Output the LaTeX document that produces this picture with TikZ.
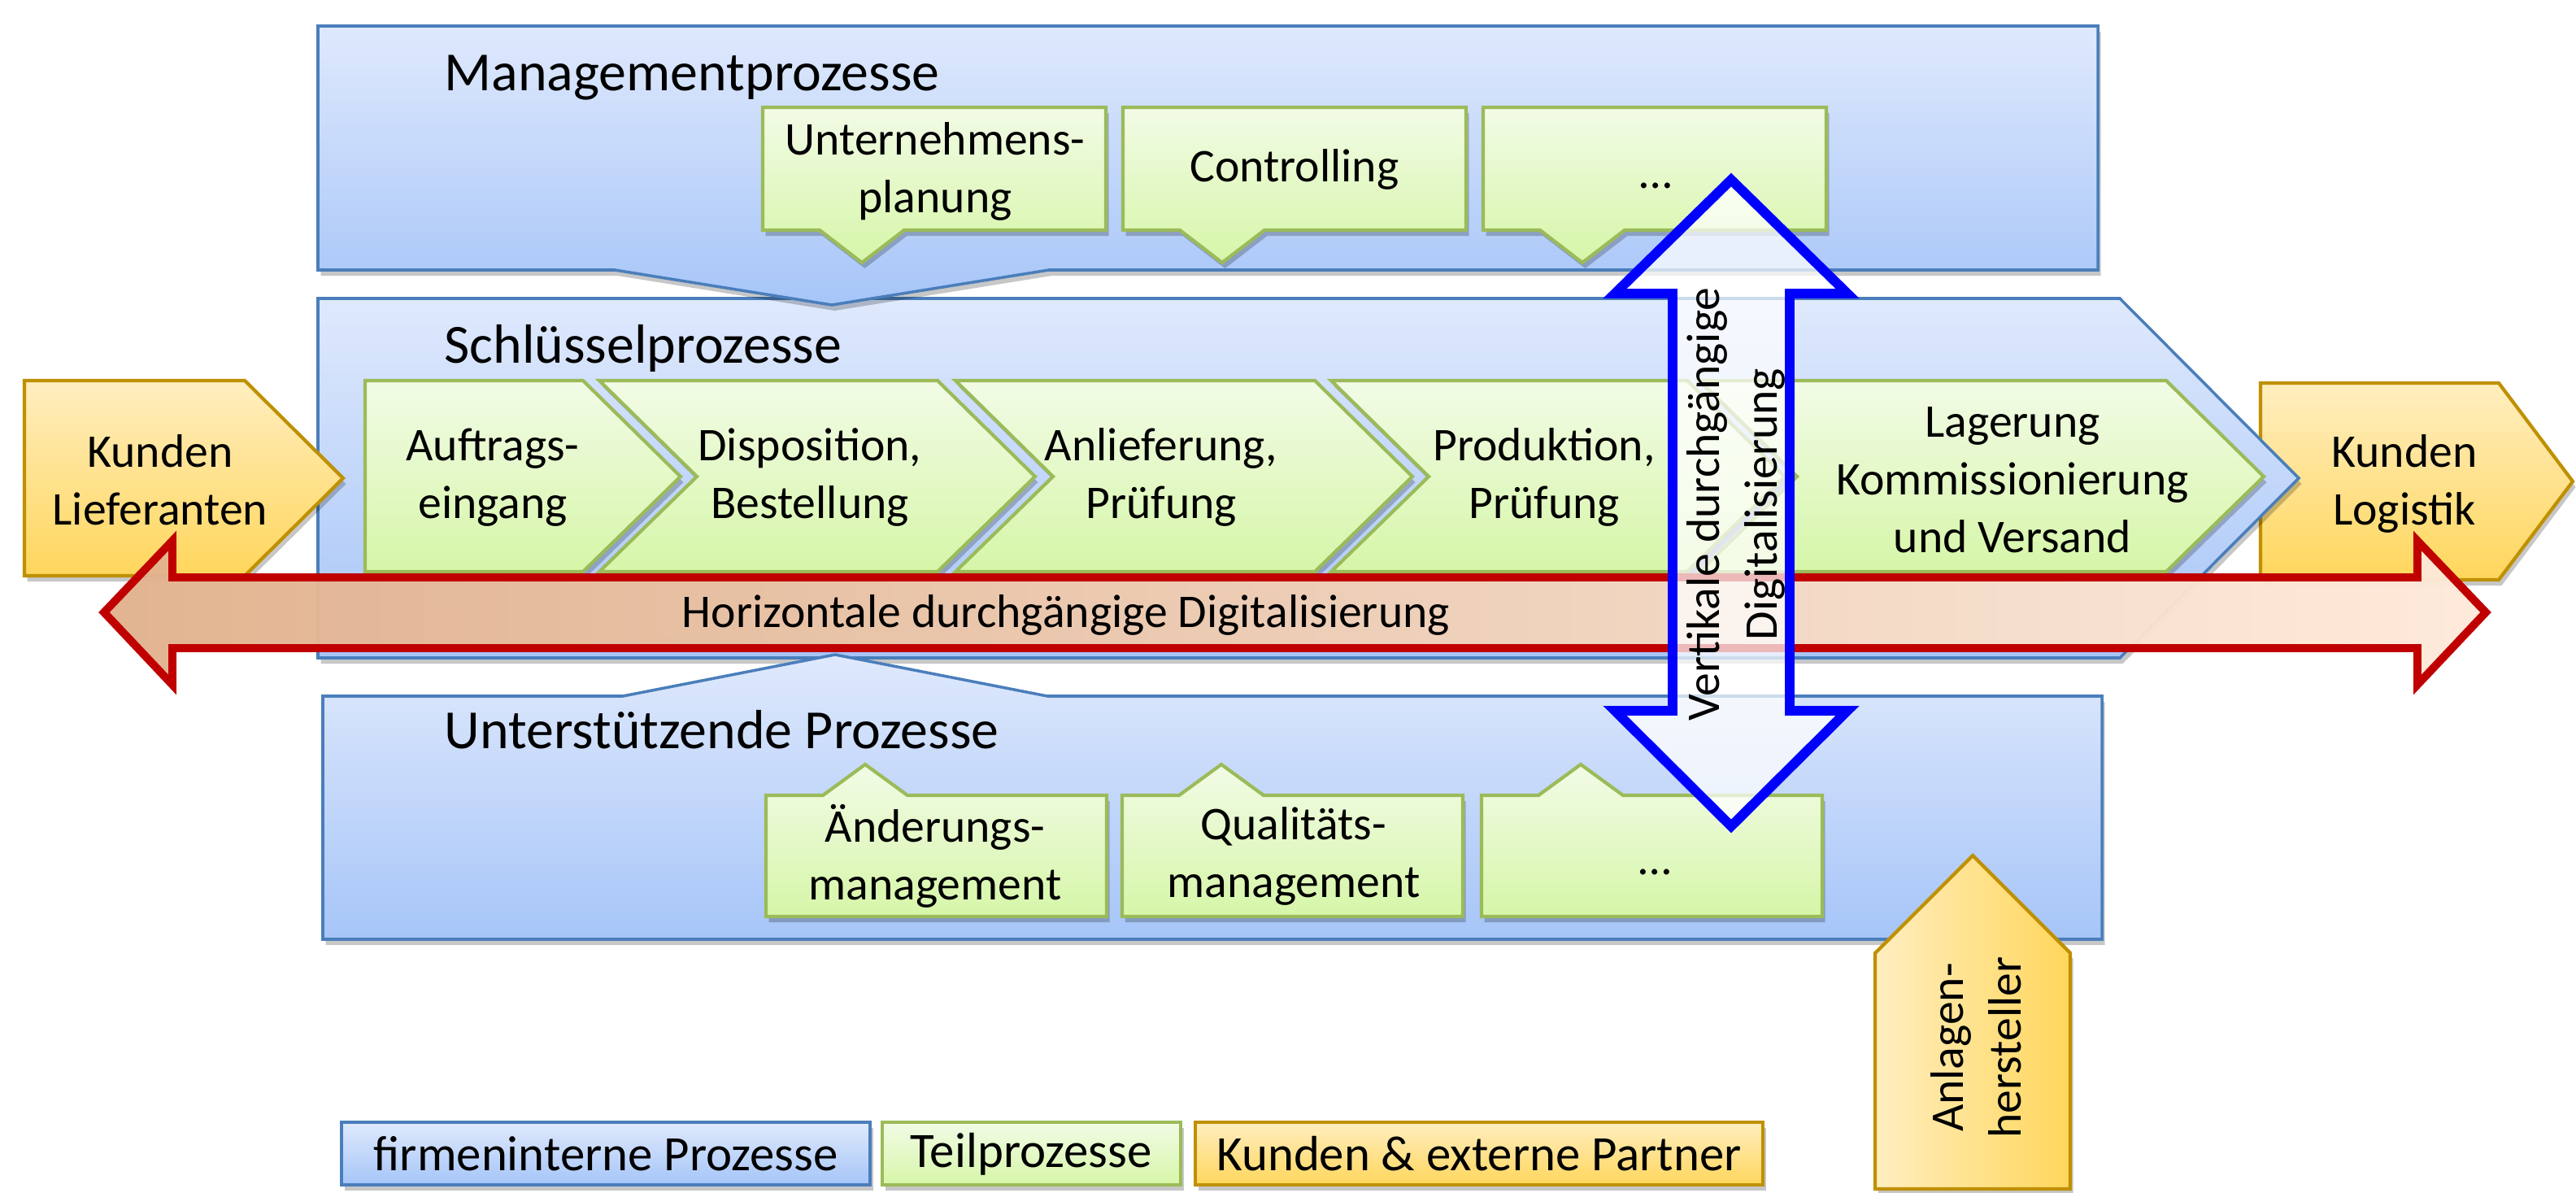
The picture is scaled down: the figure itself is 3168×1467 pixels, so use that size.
\documentclass[tikz,border=0pt]{standalone}
\usepackage{fontspec}
\setmainfont{Carlito}
\usetikzlibrary{shadows}
\definecolor{bluedraw}{RGB}{74,126,187}
\definecolor{bluetop}{RGB}{223,233,252}
\definecolor{bluebot}{RGB}{166,197,248}
\definecolor{greendraw}{RGB}{155,187,89}
\definecolor{greentop}{RGB}{242,251,230}
\definecolor{greenbot}{RGB}{214,246,168}
\definecolor{orangedraw}{RGB}{191,144,0}
\definecolor{orangetop}{RGB}{255,238,192}
\definecolor{orangebot}{RGB}{255,214,92}
\definecolor{redline}{RGB}{192,0,0}
\definecolor{redleft}{RGB}{226,178,142}
\definecolor{redmid}{RGB}{250,206,172}
\definecolor{redright}{RGB}{254,234,218}
\definecolor{vblue}{RGB}{0,0,255}
\tikzset{
  myshadow/.style={drop shadow={shadow xshift=1pt, shadow yshift=-2pt, opacity=0.22, fill=black}},
  blueshape/.style={draw=bluedraw, line width=1pt, top color=bluetop, bottom color=bluebot, myshadow},
  greenshape/.style={draw=greendraw, line width=1.2pt, top color=greentop, bottom color=greenbot, myshadow},
  orangeshape/.style={draw=orangedraw, line width=1.2pt, top color=orangetop, bottom color=orangebot, myshadow},
  boxtext/.style={font=\fontsize{16.4}{20.2}\selectfont, align=center, inner sep=0pt},
  headtext/.style={font=\fontsize{19.3}{23.5}\selectfont, anchor=base west, inner sep=0pt},
  legendtext/.style={font=\fontsize{17.3}{21}\selectfont, inner sep=0pt},
}
\begin{document}
\begin{tikzpicture}[x=0.01cm, y=-0.01cm]
\useasboundingbox (0,0) rectangle (3168,1467);
\fill[white] (0,0) rectangle (3168,1467);

% right customer box (behind key process box)
\draw[orangeshape] (2780,471) -- (3073,471) -- (3164,592) -- (3073,713) -- (2780,713) -- cycle;
\node[boxtext] (kundlog) at (2957,595) {Kunden\\Logistik};

% key processes
\draw[blueshape] (391,367) -- (2607,367) -- (2827,588) -- (2607,809) -- (391,809) -- cycle;
\node[headtext] (hS) at (546,447) {Schlüsselprozesse};

% management processes
\draw[blueshape] (391,32) -- (2580,32) -- (2580,332) -- (1290,332) -- (1023,375) -- (756,332) -- (391,332) -- cycle;
\node[headtext] (hM) at (546,112) {Managementprozesse};

% supporting processes
\draw[blueshape] (397,856) -- (766,856) -- (1027,805) -- (1288,856) -- (2585,856) -- (2585,1155) -- (397,1155) -- cycle;
\node[headtext] (hU) at (546,920) {Unterstützende Prozesse};

% management sub-boxes
\foreach \L in {938,1381,1824}{
  \draw[greenshape] (\L,132) -- ({\L+422},132) -- ({\L+422},283) -- ({\L+174},283) -- ({\L+122},323) -- ({\L+70},283) -- (\L,283) -- cycle;
}
\node[boxtext] (m1) at (1150,211) {Unternehmens-\\planung};
\node[boxtext] (m2) at (1592,208) {Controlling};
\node[boxtext] (m3) at (2036,228) {…};

% support sub-boxes
\foreach \L in {942,1380,1822}{
  \draw[greenshape] (\L,978) -- ({\L+70},978) -- ({\L+122},940) -- ({\L+174},978) -- ({\L+419},978) -- ({\L+419},1127) -- (\L,1127) -- cycle;
}
\node[boxtext] (u1) at (1150,1053) {Änderungs-\\management};
\node[boxtext] (u2) at (1591,1053) {Qualitäts-\\management};
\node[boxtext] (u3) at (2035,1072) {…};

% key process chevrons
\draw[greenshape] (449,468) -- (717,468) -- (837,586) -- (717,703) -- (449,703) -- cycle;
\draw[greenshape] (737,468) -- (1153,468) -- (1273,586) -- (1153,703) -- (737,703) -- (857,586) -- cycle;
\draw[greenshape] (1175,468) -- (1617,468) -- (1737,586) -- (1617,703) -- (1175,703) -- (1295,586) -- cycle;
\draw[greenshape] (1637,468) -- (2075,468) -- (2195,586) -- (2075,703) -- (1637,703) -- (1757,586) -- cycle;
\draw[greenshape] (2090,468) -- (2664,468) -- (2784,586) -- (2664,703) -- (2090,703) -- (2210,586) -- cycle;
\node[boxtext] (c1) at (606,587) {Auftrags-\\eingang};
\node[boxtext] (c2) at (996,587) {Disposition,\\Bestellung};
\node[boxtext] (c3) at (1428,587) {Anlieferung,\\Prüfung};
\node[boxtext] (c4) at (1899,587) {Produktion,\\Prüfung};
\node[boxtext] (c5) at (2475,590) {Lagerung\\Kommissionierung\\und Versand};

% left customer box
\draw[orangeshape] (30,468) -- (301,468) -- (422,588) -- (301,708) -- (30,708) -- cycle;
\node[boxtext] (kundlief) at (197,590) {Kunden\\Lieferanten};

% horizontal double arrow
\draw[draw=redline, line width=2.8pt, left color=redleft, middle color=redmid, right color=redright, fill opacity=0.97]
  (128,753) -- (212,665) -- (212,710) -- (2973,710) -- (2973,665) -- (3057,753) -- (2973,842) -- (2973,797) -- (212,797) -- (212,842) -- cycle;
\node[boxtext] (horiz) at (1311,756) {Horizontale durchgängige Digitalisierung};

% vertical double arrow
\draw[draw=vblue, line width=3.4pt, fill=white, fill opacity=0.72]
  (2129,221) -- (2272,361) -- (2201,361) -- (2201,874) -- (2272,874) -- (2129,1016) -- (1986,874) -- (2057,874) -- (2057,361) -- (1986,361) -- cycle;
\node[boxtext, rotate=90] (vert) at (2135,620) {Vertikale durchgängige\\Digitalisierung};

% plant manufacturer
\draw[draw=orangedraw, line width=1.2pt, left color=orangetop, right color=orangebot, myshadow]
  (2306,1172) -- (2426,1052) -- (2546,1172) -- (2546,1462) -- (2306,1462) -- cycle;
\node[boxtext, rotate=90] (anlagen) at (2430,1288) {Anlagen-\\hersteller};

% legend
\draw[blueshape, line width=1.4pt] (420,1380) rectangle (1070,1457);
\node[legendtext] (l1) at (745,1419) {firmeninterne Prozesse};
\draw[greenshape, line width=1.4pt] (1085,1380) rectangle (1452,1457);
\node[legendtext] (l2) at (1268,1419) {Teilprozesse};
\draw[orangeshape, line width=1.4pt] (1470,1380) rectangle (2168,1457);
\node[legendtext] (l3) at (1819,1419) {Kunden \& externe Partner};
\end{tikzpicture}
\end{document}
